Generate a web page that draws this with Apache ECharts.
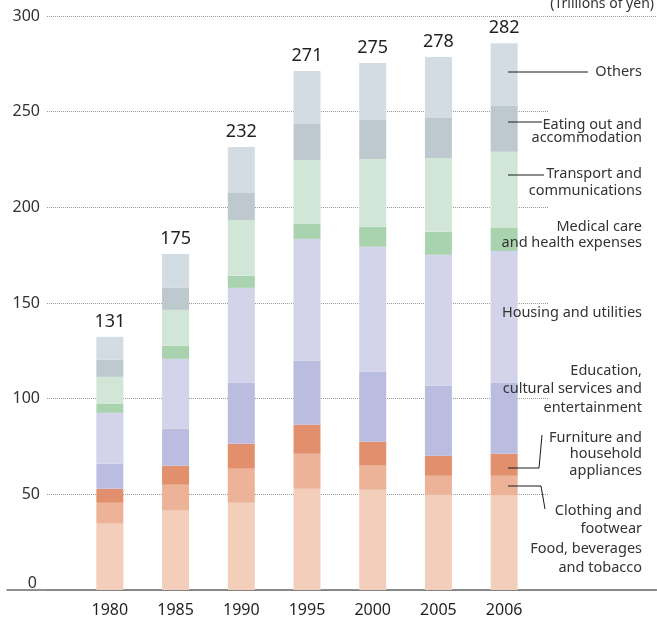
<!DOCTYPE html>
<html>
<head>
<meta charset="utf-8">
<script src="https://cdn.jsdelivr.net/npm/echarts@6/dist/echarts.min.js"></script>
<style>
html,body{margin:0;padding:0;background:#fff;}
#main{width:657px;height:619px;}
</style>
</head>
<body>
<div id="main"></div>
<script>
// Data (trillions of yen)
const years = ['1980','1985','1990','1995','2000','2005','2006'];
const totals = [131, 175, 232, 271, 275, 278, 282];
const food      = [34.7, 41.5, 45.6, 52.9, 52.4, 49.8, 49.3];
const clothing  = [10.9, 13.5, 17.8, 18.3, 12.6,  9.9, 10.4];
const furniture = [ 7.3,  9.9, 13.0, 15.2, 12.5, 10.5, 11.5];
const education = [13.1, 19.4, 32.0, 33.4, 36.6, 36.6, 37.2];
const housing   = [26.6, 36.5, 49.5, 63.7, 65.3, 68.4, 68.8];
const medical   = [ 4.7,  6.8,  6.3,  7.8, 10.4, 12.0, 12.0];
const transport = [14.1, 18.8, 29.2, 33.5, 35.5, 38.6, 39.8];
const eating    = [ 8.9, 11.5, 14.1, 18.8, 20.3, 20.9, 24.0];
const others    = [12.0, 17.7, 24.0, 27.6, 29.8, 31.9, 32.8];
const yTicks = [0, 50, 100, 150, 200, 250, 300];

const seriesDefs = [
  ['Food, beverages and tobacco', food, '#f3cfbb'],
  ['Clothing and footwear', clothing, '#edb399'],
  ['Furniture and household appliances', furniture, '#e28f6d'],
  ['Education, cultural services and entertainment', education, '#babddf'],
  ['Housing and utilities', housing, '#d3d3ea'],
  ['Medical care and health expenses', medical, '#a9d2af'],
  ['Transport and communications', transport, '#d2e6d7'],
  ['Eating out and accommodation', eating, '#bec9cf'],
  ['Others', others, '#d3dce2']
];

const FONT = '"Noto Sans", "DejaVu Sans", sans-serif';
const dotted = {type: [1, 1], color: '#9a9a9a', width: 1};

const series = seriesDefs.map(function (d, i) {
  const s = {
    name: d[0], type: 'bar', stack: 'total', xAxisIndex: 0, yAxisIndex: 0,
    data: d[1], barWidth: 27, itemStyle: {color: d[2]}, silent: true
  };
  if (i === seriesDefs.length - 1) {
    s.label = {
      show: true, position: 'top', distance: 6,
      formatter: function (p) { return String(totals[p.dataIndex]); },
      fontFamily: FONT, fontSize: 18, color: '#231f20'
    };
  }
  return s;
});

function txt(text, x, y, size) {
  return {type: 'text', z: 10, style: {text: text, x: x, y: y, align: 'right', verticalAlign: 'middle',
    fontFamily: FONT, fontSize: size || 14.5, fill: '#333'}};
}
function line(points) {
  return {type: 'polyline', z: 10, shape: {points: points}, style: {stroke: '#1a1a1a', lineWidth: 1, fill: null}};
}

const option = {
  animation: false,
  backgroundColor: '#fff',
  grid: [
    {left: 77, right: 120, top: 16, bottom: 29},
    {left: 47, right: 109, top: 16, bottom: 29},
    {left: 47, right: 0, top: 16, bottom: 29},
    {left: 7, right: 0, top: 16, bottom: 29}
  ],
  xAxis: [
    {gridIndex: 0, type: 'category', data: years,
     axisLine: {show: false}, axisTick: {show: false},
     axisLabel: {margin: 12, fontFamily: FONT, fontSize: 16, color: '#231f20'}},
    {gridIndex: 1, type: 'value', show: false},
    {gridIndex: 2, type: 'value', show: false},
    {gridIndex: 3, type: 'value', min: 0, max: 1, axisLine: {show: true, lineStyle: {color: '#6b6b6b', width: 1.5}},
     axisTick: {show: false}, axisLabel: {show: false}, splitLine: {show: false}}
  ],
  yAxis: [
    {gridIndex: 0, type: 'value', min: 0, max: 300, interval: 50, show: false},
    {gridIndex: 1, type: 'value', min: 0, max: 300, interval: 50,
     axisLine: {show: false}, axisTick: {show: false},
     axisLabel: {margin: 7, fontFamily: FONT, fontSize: 16, color: '#333',
       formatter: function (v) {
         if (yTicks.indexOf(v) < 0) return '';
         return v === 0 ? '{z|0}' : String(v);
       },
       rich: {z: {fontFamily: FONT, fontSize: 16, color: '#333', padding: [0, 3, 14, 0]}}},
     splitLine: {show: true, lineStyle: dotted}},
    {gridIndex: 2, type: 'value', min: 0, max: 300, interval: 300, axisLine: {show: false},
     axisTick: {show: false}, axisLabel: {show: false}, splitLine: {show: true, lineStyle: dotted}},
    {gridIndex: 3, type: 'value', min: 0, max: 300, show: false}
  ],
  series: series,
  graphic: [
    txt('(Trillions of yen)', 654, 4, 14),
    line([[508, 72], [588, 72]]), txt('Others', 642, 72),
    line([[508, 122], [542, 122]]), txt('Eating out and', 642, 125), txt('accommodation', 642, 138),
    line([[508, 175], [544, 175]]), txt('Transport and', 642, 174), txt('communications', 642, 191),
    txt('Medical care', 642, 227), txt('and health expenses', 642, 243),
    txt('Housing and utilities', 642, 313),
    txt('Education,', 642, 371), txt('cultural services and', 642, 389), txt('entertainment', 642, 408),
    line([[508, 468], [539, 468], [542, 435]]),
    txt('Furniture and', 642, 438), txt('household', 642, 454), txt('appliances', 642, 471),
    line([[508, 486], [541, 486], [545, 509]]),
    txt('Clothing and', 642, 511), txt('footwear', 642, 529),
    txt('Food, beverages', 642, 549), txt('and tobacco', 642, 568)
  ]
};

const chart = echarts.init(document.getElementById('main'), null, {renderer: 'canvas'});
chart.setOption(option);
</script>
</body>
</html>
